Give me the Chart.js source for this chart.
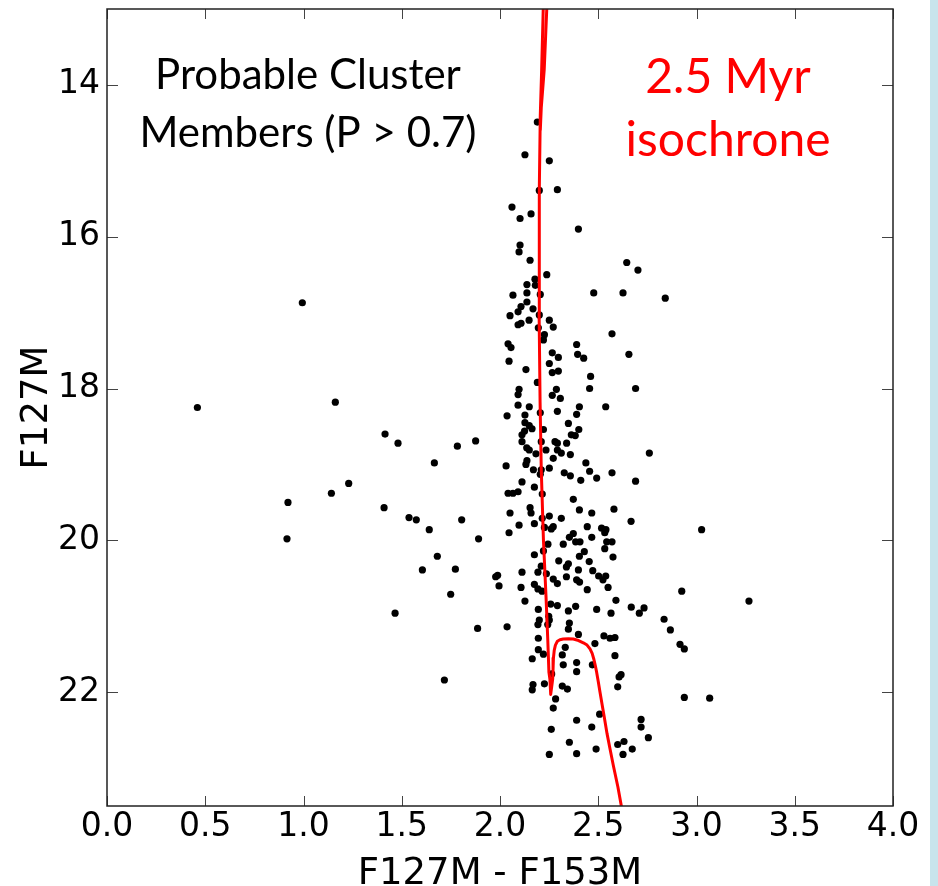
<!DOCTYPE html>
<html>
<head>
<meta charset="utf-8">
<title>F127M vs F127M - F153M</title>
<script src="https://cdn.jsdelivr.net/npm/chart.js@4.4.1/dist/chart.umd.min.js"></script>
<style>
    html, body { margin: 0; padding: 0; background: #ffffff; }
    #cmd { display: block; }
</style>
</head>
<body>
<canvas id="cmd" width="938" height="886"></canvas>
<script>
// Probable cluster members: colour (F127M - F153M) and magnitude (F127M)
const memberColor = [
    0.994, 0.46, 1.162, 1.415, 1.481, 1.783, 1.876, 1.666, 1.230, 1.142, 0.921, 1.41, 1.537, 1.574, 1.805, 1.64, 1.891, 0.916, 1.681, 1.605, 1.773, 1.749, 1.466, 1.886, 1.717,
    3.026, 2.925, 3.267, 2.835, 2.867, 2.916, 2.938, 2.938, 3.067, 2.755, 2.841, 2.76,
    2.19, 2.127, 2.251, 2.2, 2.292, 2.061, 2.158, 2.102, 2.399, 2.102, 2.097, 2.153, 2.645, 2.702, 2.178, 2.238,
    2.18, 2.137, 2.066, 2.137, 2.205, 2.477, 2.626, 2.137, 2.107, 2.168, 2.092, 2.051, 2.2, 2.148, 2.251, 2.107, 2.092, 2.271, 2.195, 2.226, 2.221, 2.57,
    2.041, 2.056, 2.39, 2.395, 2.426, 2.266, 2.297, 2.656, 2.046, 2.251, 2.132, 2.266, 2.297, 2.461, 2.19, 2.456, 2.69, 2.097, 2.092, 2.287, 2.266, 2.307,
    2.092, 2.149, 2.404, 2.538, 2.036, 2.127, 2.205, 2.292, 2.39, 2.127, 2.149, 2.163, 2.348, 2.125, 2.112, 2.221, 2.401, 2.363, 2.383, 2.112, 2.21, 2.28,
    2.292, 2.339, 2.136, 2.149, 2.234, 2.292, 2.312, 2.358, 2.183, 2.271, 2.137, 2.132, 2.031, 2.251, 2.17, 2.21, 2.205, 2.327, 2.358, 2.437, 2.456, 2.492,
    2.57, 2.411, 2.69, 2.112, 2.175, 2.041, 2.066, 2.092, 2.215, 2.373, 2.153, 2.158, 2.051, 2.404, 2.467, 2.58, 2.215, 2.251, 2.312, 2.175, 2.097, 2.226,
    2.261, 2.271, 2.444, 2.667, 2.517, 2.539, 2.046, 2.353, 2.373, 2.467,
    2.407, 2.385, 2.533, 2.543, 2.57, 2.533, 2.322, 2.244, 2.175, 2.221, 2.299, 2.404, 2.429, 2.454, 2.575, 2.21, 2.348, 2.338, 2.112, 2.193, 2.236, 2.399,
    2.472, 1.978, 1.988, 1.995, 2.271, 2.292, 2.338, 2.39, 2.405, 2.502, 2.524, 2.538, 2.55, 2.107, 2.175, 2.193, 2.214, 2.444, 2.127, 2.59, 2.258, 2.292,
    2.385, 2.348, 2.195, 2.492, 2.565, 2.668, 2.709, 2.733, 2.248, 2.036, 2.193, 2.2, 2.243, 2.251, 2.353, 2.348, 2.399, 2.195, 2.529, 2.56, 2.585, 2.483,
    2.332, 2.195, 2.164, 2.221, 2.317, 2.585, 2.322, 2.39, 2.39, 2.47, 2.263, 2.616, 2.606, 2.168, 2.164, 2.226, 2.317, 2.343, 2.599, 2.283, 2.271, 2.507,
    2.39, 2.718, 2.718, 2.261, 2.467, 2.353, 2.599, 2.631, 2.673, 2.251, 2.39, 2.489, 2.626
];
const memberMag = [
    16.87, 18.25, 18.18, 18.60, 18.72, 18.76, 18.69, 18.98, 19.25, 19.38, 19.50, 19.57, 19.70, 19.73, 19.73, 19.86, 19.98, 19.98, 20.21, 20.39, 20.38, 20.71, 20.96, 21.16, 21.84,
    19.86, 20.67, 20.80, 21.04, 21.18, 21.37, 21.43, 22.07, 22.08, 22.60, 16.81, 18.85,
    14.49, 14.92, 15.00, 15.39, 15.38, 15.61, 15.70, 15.76, 15.90, 16.11, 16.20, 16.31, 16.34, 16.44, 16.56, 16.50,
    16.64, 16.63, 16.77, 16.74, 16.76, 16.74, 16.74, 16.86, 16.92, 16.95, 16.99, 17.04, 17.03, 17.10, 17.10, 17.14, 17.16, 17.19, 17.20, 17.29, 17.36, 17.28,
    17.41, 17.46, 17.42, 17.55, 17.60, 17.53, 17.59, 17.55, 17.64, 17.67, 17.75, 17.79, 17.77, 17.84, 17.92, 18.00, 18.00, 18.01, 18.08, 18.01, 18.09, 18.13,
    18.22, 18.24, 18.24, 18.24, 18.36, 18.35, 18.32, 18.30, 18.34, 18.45, 18.49, 18.53, 18.46, 18.56, 18.61, 18.54, 18.54, 18.61, 18.62, 18.70, 18.70, 18.70,
    18.72, 18.72, 18.78, 18.81, 18.81, 18.81, 18.85, 18.87, 18.86, 18.92, 18.95, 19.00, 19.02, 19.05, 19.07, 19.07, 19.13, 19.11, 19.15, 18.98, 19.09, 19.18,
    19.11, 19.21, 19.22, 19.23, 19.30, 19.38, 19.38, 19.36, 19.39, 19.46, 19.57, 19.64, 19.64, 19.60, 19.64, 19.59, 19.71, 19.68, 19.71, 19.78, 19.80, 19.83,
    19.85, 19.82, 19.82, 19.75, 19.84, 19.86, 19.90, 19.96, 19.91, 19.96,
    20.02, 20.02, 19.90, 20.02, 20.02, 20.11, 20.05, 20.05, 20.19, 20.14, 20.27, 20.21, 20.15, 20.28, 20.22, 20.34, 20.31, 20.35, 20.42, 20.42, 20.44, 20.39,
    20.40, 20.48, 20.46, 20.60, 20.51, 20.57, 20.48, 20.52, 20.55, 20.47, 20.52, 20.47, 20.62, 20.62, 20.58, 20.64, 20.67, 20.65, 20.80, 20.79, 20.84, 20.86,
    20.87, 20.93, 20.91, 20.91, 20.96, 20.88, 20.96, 20.89, 21.00, 21.14, 21.11, 21.05, 21.11, 21.05, 21.09, 21.17, 21.24, 21.29, 21.26, 21.29, 21.28, 21.36,
    21.41, 21.44, 21.56, 21.50, 21.51, 21.52, 21.64, 21.61, 21.73, 21.64, 21.76, 21.77, 21.80, 21.90, 21.97, 21.89, 21.92, 21.96, 21.93, 22.09, 22.21, 22.29,
    22.37, 22.36, 22.46, 22.49, 22.46, 22.66, 22.69, 22.65, 22.75, 22.82, 22.81, 22.75, 22.82
];

// 2.5 Myr isochrone, from the faint end upwards
const isoColor = [
    2.621, 2.600, 2.577, 2.560, 2.545, 2.532, 2.520, 2.509, 2.500, 2.492, 2.485, 2.478, 2.469, 2.458, 2.443, 2.424, 2.400, 2.373, 2.348, 2.322,
    2.305, 2.292, 2.282, 2.276, 2.272, 2.270, 2.268, 2.258, 2.254, 2.249, 2.243, 2.234, 2.221, 2.210, 2.204, 2.199, 2.200, 2.205, 2.212, 2.220,
    2.228, 2.238, 2.238, 2.225, 2.210, 2.205
];
const isoMag = [
    23.55, 23.25, 22.97, 22.75, 22.55, 22.35, 22.17, 22.00, 21.86, 21.74, 21.65, 21.57, 21.49, 21.43, 21.38, 21.35, 21.32, 21.30, 21.295, 21.30,
    21.31, 21.33, 21.38, 21.45, 21.55, 21.70, 21.83, 22.03, 21.83, 21.74, 21.30, 20.73, 19.99, 19.07, 18.18, 17.00, 15.38, 14.40, 13.80, 13.00,
    12.60, 12.80, 13.00, 13.80, 14.30, 14.60
];

// Axes
const xTicks = [0.0, 0.5, 1.0, 1.5, 2.0, 2.5, 3.0, 3.5, 4.0];
const yTicks = [14, 16, 18, 20, 22];
const xRange = [0, 4];
const yRange = [13, 23.5];

const tickFont = { family: 'DejaVu Sans', size: 33 };
const labelFont = { family: 'DejaVu Sans', size: 37, lineHeight: 1 };

function toPoints(xs, ys) {
    return xs.map((x, i) => ({ x: x, y: ys[i] }));
}

// Frame with inward ticks on all four sides, plus the slide strip and notes
const framePlugin = {
    id: 'frame',
    beforeDraw(chart) {
        const ctx = chart.ctx;
        ctx.save();
        ctx.fillStyle = '#c8e4ec';
        ctx.fillRect(930, 0, 8, chart.height);
        ctx.restore();
    },
    afterDraw(chart) {
        const { ctx, chartArea: a, scales } = chart;
        ctx.save();
        ctx.strokeStyle = '#444';
        ctx.lineWidth = 1;
        ctx.beginPath();
        scales.x.ticks.forEach(t => {
            const px = Math.round(scales.x.getPixelForValue(t.value)) + 0.5;
            ctx.moveTo(px, a.bottom); ctx.lineTo(px, a.bottom - 10);
            ctx.moveTo(px, a.top); ctx.lineTo(px, a.top + 10);
        });
        scales.y.ticks.forEach(t => {
            const py = Math.round(scales.y.getPixelForValue(t.value)) + 0.5;
            ctx.moveTo(a.left, py); ctx.lineTo(a.left + 11, py);
            ctx.moveTo(a.right, py); ctx.lineTo(a.right - 11, py);
        });
        ctx.stroke();

        ctx.strokeStyle = '#222';
        ctx.lineWidth = 1.5;
        ctx.strokeRect(a.left, a.top, a.right - a.left, a.bottom - a.top);

        // Notes
        ctx.textAlign = 'center';
        ctx.textBaseline = 'alphabetic';
        ctx.fillStyle = '#000';
        ctx.font = '42px Lato';
        ctx.fillText('Probable Cluster', 308, 89);
        ctx.fillText('Members (P > 0.7)', 308, 147);
        ctx.fillStyle = '#ff0000';
        ctx.font = '48px Lato';
        ctx.fillText('2.5 Myr', 728, 93);
        ctx.fillText('isochrone', 728, 156);
        ctx.restore();
    }
};

new Chart(document.getElementById('cmd'), {
    type: 'scatter',
    data: {
        datasets: [
            {
                label: '2.5 Myr isochrone',
                data: toPoints(isoColor, isoMag),
                showLine: true,
                borderColor: '#ff0000',
                borderWidth: 3,
                borderJoinStyle: 'round',
                pointRadius: 0,
                tension: 0,
                order: 0
            },
            {
                label: 'Probable Cluster Members (P > 0.7)',
                data: toPoints(memberColor, memberMag),
                backgroundColor: '#000',
                borderWidth: 0,
                pointRadius: 3.6,
                order: 1
            }
        ]
    },
    options: {
        responsive: false,
        animation: false,
        devicePixelRatio: 1,
        layout: { padding: { top: 9, right: 45, left: 0, bottom: 0 } },
        plugins: {
            legend: { display: false },
            tooltip: { enabled: false }
        },
        scales: {
            x: {
                type: 'linear',
                min: xRange[0],
                max: xRange[1],
                grid: { display: false, drawTicks: false },
                border: { display: false },
                afterBuildTicks: scale => { scale.ticks = xTicks.map(v => ({ value: v })); },
                afterFit: scale => {
                    scale.height = 80;
                    scale.paddingLeft = 0;
                    scale.paddingRight = 0;
                },
                ticks: {
                    color: '#000',
                    font: tickFont,
                    padding: 2,
                    maxRotation: 0,
                    callback: v => Number(v).toFixed(1)
                },
                title: {
                    display: true,
                    text: 'F127M - F153M',
                    color: '#000',
                    font: labelFont,
                    padding: { top: 0, bottom: -7 }
                }
            },
            y: {
                type: 'linear',
                min: yRange[0],
                max: yRange[1],
                reverse: true,
                grid: { display: false, drawTicks: false },
                border: { display: false },
                afterBuildTicks: scale => { scale.ticks = yTicks.map(v => ({ value: v })); },
                afterFit: scale => {
                    scale.width = 107;
                    scale.paddingTop = 0;
                    scale.paddingBottom = 0;
                },
                ticks: {
                    color: '#000',
                    font: tickFont,
                    padding: 7,
                    callback: v => String(v)
                },
                title: {
                    display: true,
                    text: 'F127M',
                    color: '#000',
                    font: labelFont,
                    padding: { top: 19, bottom: 0 }
                }
            }
        }
    },
    plugins: [framePlugin]
});
</script>
</body>
</html>
